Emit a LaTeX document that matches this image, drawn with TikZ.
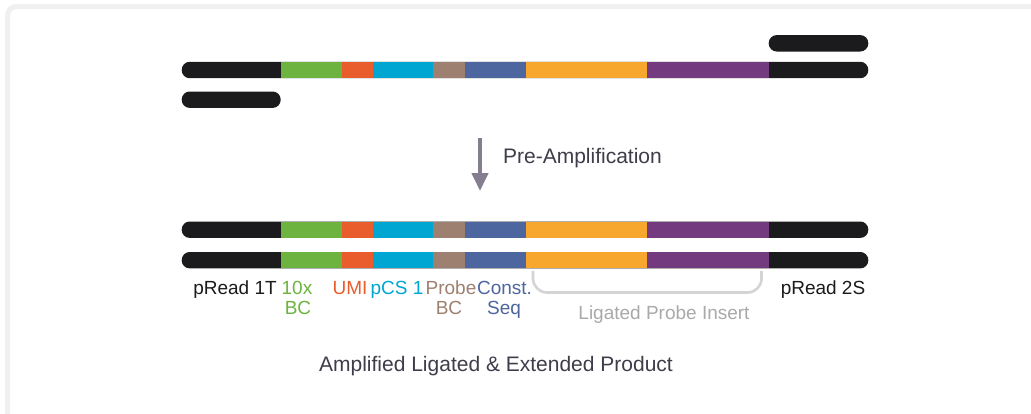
\documentclass[tikz,border=0pt]{standalone}
\usepackage{fontspec}
\setmainfont{Liberation Sans}
\usetikzlibrary{arrows.meta}
\definecolor{cblk}{HTML}{1B1A1C}
\definecolor{cgreen}{HTML}{6CB33F}
\definecolor{corange}{HTML}{E95C2B}
\definecolor{ccyan}{HTML}{00A6D2}
\definecolor{cbrown}{HTML}{9E8070}
\definecolor{cblue}{HTML}{4E66A0}
\definecolor{cyellow}{HTML}{F7A72E}
\definecolor{cpurple}{HTML}{733A7F}
\definecolor{cframe}{HTML}{F0F0F0}
\definecolor{carrow}{HTML}{857E91}
\definecolor{cdark}{HTML}{3E3D4A}
\definecolor{cbracket}{HTML}{D4D4D4}
\definecolor{cinsert}{HTML}{A9A9A9}
\tikzset{
  lbl/.style={anchor=base, inner sep=0pt, font=\fontsize{19}{21}\selectfont},
  head/.style={anchor=base, inner sep=0pt, font=\fontsize{21}{23}\selectfont, text=cdark},
  primer/.style={fill=cblk, rounded corners=8pt},
}
\newcommand\dnastrand[1]{%
  \fill[primer] (181.7,{#1-8.2}) rectangle (868.3,{#1+8.2});
  \foreach \a/\b/\c in {280.7/341.7/cgreen,341.7/373.3/corange,373.3/433.3/ccyan,433.3/465.3/cbrown,465.3/525.7/cblue,525.7/646.7/cyellow,646.7/768.7/cpurple}
    \fill[\c] (\a,{#1-8.2}) rectangle (\b,{#1+8.2});
}
\begin{document}
\begin{tikzpicture}[x=1pt,y=-1pt]
\useasboundingbox (0,0) rectangle (1031,413);
\clip (0,0) rectangle (1031,413);
\fill[white] (0,0) rectangle (1031,413);
\draw[cframe, line width=5pt, rounded corners=9pt] (7.5,6.5) rectangle (1045,425);

% top template strand with primers
\dnastrand{70}
\fill[primer] (768.7,35.1) rectangle (868.3,51.5);
\fill[primer] (181.7,91.5) rectangle (280.7,107.9);

% arrow
\coordinate (atop) at (480,138);
\coordinate (abot) at (480,191);
\draw[carrow, line width=4pt, -{Triangle[width=16pt,length=18pt]}] (atop) -- (abot);
\node[head] (pre) at (582.5,163) {Pre-Amplification};

% product strands
\dnastrand{229.7}
\dnastrand{260.2}

% labels
\node[lbl, text=cblk] (p1) at (235,294.5) {pRead 1T};
\node[lbl, text=cgreen] (bc1) at (297,294.5) {10x};
\node[lbl, text=cgreen] (bc2) at (298,314) {BC};
\node[lbl, text=corange] (umi) at (350,294.5) {UMI};
\node[lbl, text=ccyan] (pcs) at (397,294.5) {pCS 1};
\node[lbl, text=cbrown] (pb1) at (451,294.5) {Probe};
\node[lbl, text=cbrown] (pb2) at (449,314) {BC};
\node[lbl, text=cblue] (cs1) at (504.5,294.5) {Const.};
\node[lbl, text=cblue] (cs2) at (504,314) {Seq};
\node[lbl, text=cblk] (p2) at (823,294.5) {pRead 2S};

% bracket
\coordinate (bl) at (533,271);
\coordinate (br) at (761.5,271);
\draw[cbracket, line width=2.6pt, rounded corners=14pt] (bl) -- (533,292.5) -- (761.5,292.5) -- (br);
\node[lbl, text=cinsert] (ins) at (664,319.5) {Ligated Probe Insert};

\node[head] (prod) at (496,371) {Amplified Ligated \& Extended Product};
\end{tikzpicture}
\end{document}
